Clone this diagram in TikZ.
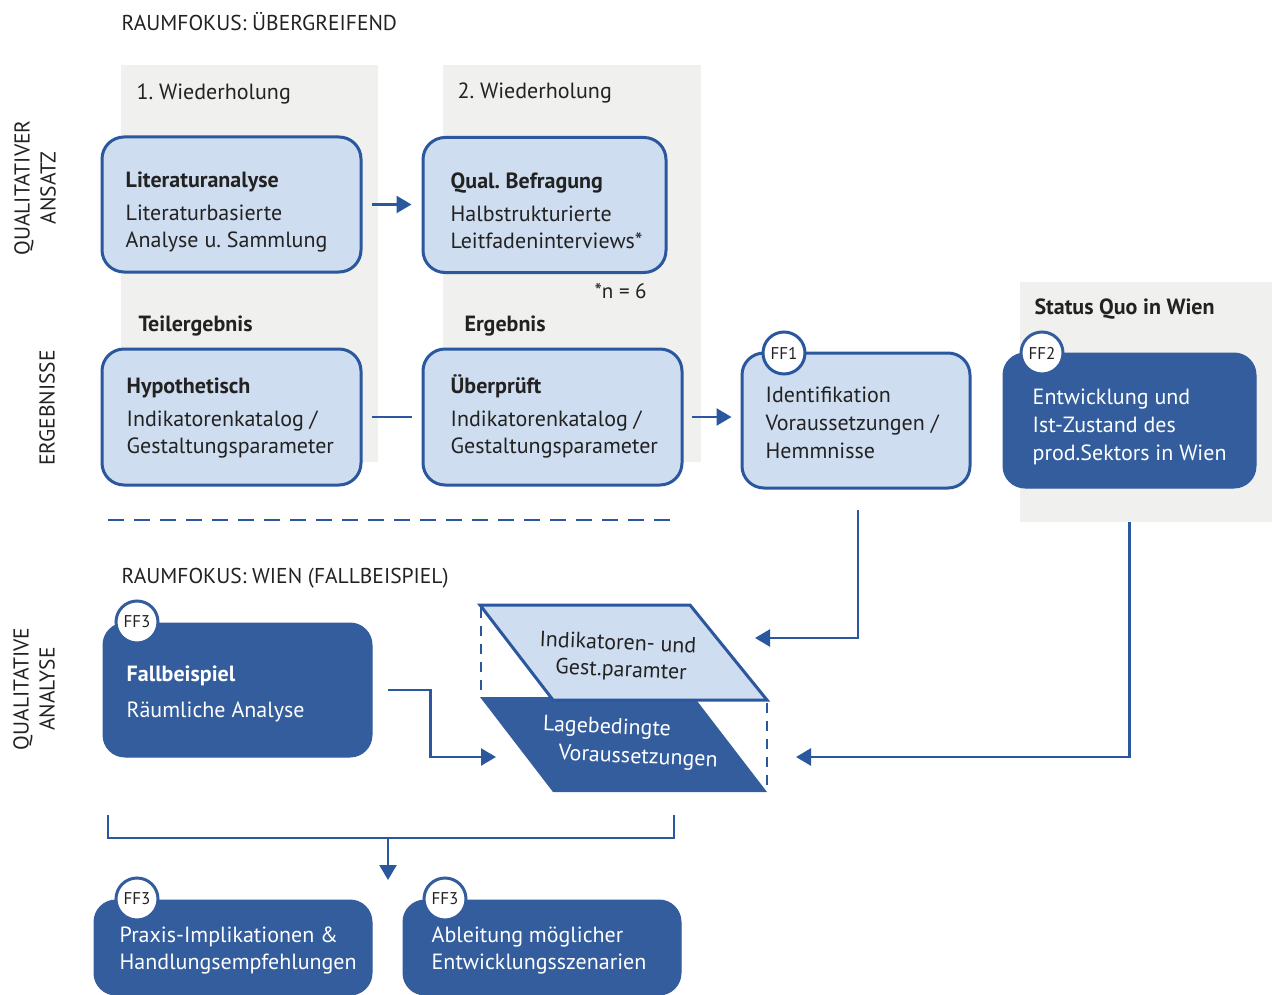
\documentclass[tikz,border=0pt]{standalone}
\usepackage{fontspec}
\setmainfont{PT Sans}
\usetikzlibrary{arrows.meta}
\definecolor{bord}{HTML}{2A579E}
\definecolor{lightfill}{HTML}{CFDDF0}
\definecolor{darkfill}{HTML}{335D9C}
\definecolor{greybg}{HTML}{F0F0EE}
\definecolor{txt}{HTML}{222222}
\tikzset{
  lightbox/.style={draw=bord, line width=3pt, fill=lightfill, rounded corners=22pt},
  darkbox/.style={draw=darkfill, line width=1pt, fill=darkfill, rounded corners=22pt},
  boxtext/.style={anchor=north west, inner sep=0pt, align=left, text=txt,
    font=\fontsize{22}{27}\selectfont},
  darktext/.style={boxtext, text=white},
  badge/.style={circle, draw=bord, line width=3pt, fill=white, minimum size=42pt,
    inner sep=0pt, text=txt, font=\fontsize{17}{17}\selectfont},
  darkbadge/.style={badge, draw=darkfill},
  greypanel/.style={fill=greybg, draw=none, inner sep=0pt},
  conn/.style={draw=bord, line width=2.5pt},
  arr/.style={conn, -{Triangle[length=15pt, width=17pt]}},
  caption/.style={anchor=west, text=txt, font=\fontsize{21.5}{24}\selectfont},
  heading/.style={anchor=west, text=txt, font=\fontsize{22}{24}\selectfont\bfseries},
  sidelabel/.style={rotate=90, align=center, text=txt, font=\fontsize{21.5}{26}\selectfont},
  paratext/.style={inner sep=0pt, rotate=-2.5, font=\fontsize{22}{25}\selectfont},
}
\newcommand{\firstline}{\rule{0pt}{18.9pt}}
\begin{document}
\frenchspacing
\begin{tikzpicture}[x=1pt, y=-1pt]
\useasboundingbox (0,0) rectangle (1272,995);

% grey background panels
\node[greypanel, minimum width=257pt, minimum height=397pt] (bgone) at (249.5,263.5) {};
\node[greypanel, minimum width=258pt, minimum height=397pt] (bgtwo) at (572,263.5) {};
\node[greypanel, minimum width=252pt, minimum height=240pt] (bgsq) at (1146,402) {};

% headings
\node[caption] (rfall) at (118,22) {RAUMFOKUS: ÜBERGREIFEND};
\node[caption, font=\fontsize{22}{24}\selectfont] (wdh1) at (133,94) {1. Wiederholung};
\node[caption, font=\fontsize{22}{24}\selectfont] (wdh2) at (454,93) {2. Wiederholung};
\node[caption, font=\fontsize{21}{24}\selectfont] (nsix) at (591,291) {*n = 6};
\node[heading] (teil) at (135,326) {Teilergebnis};
\node[heading] (erg) at (461,326) {Ergebnis};
\node[heading] (sq) at (1031,309) {Status Quo in Wien};
\node[caption] (rfwien) at (118,578) {RAUMFOKUS: WIEN (FALLBEISPIEL)};

% side labels
\node[sidelabel] (sqa) at (35,188) {QUALITATIVER\\ANSATZ};
\node[sidelabel] (serg) at (47,408) {ERGEBNISSE};
\node[sidelabel] (sqan) at (34,689) {QUALITATIVE\\ANALYSE};

% first row: method steps
\node[lightbox, minimum width=259pt, minimum height=135pt] (lit) at (231.5,204.5) {};
\node[boxtext] (littext) at ([shift={(25,33)}]lit.north west)
  {\firstline\textbf{Literaturanalyse}\\[6pt]Literaturbasierte\\Analyse u. Sammlung};
\node[lightbox, minimum width=243pt, minimum height=135pt] (qual) at (544.5,205) {};
\node[boxtext] (qualtext) at ([shift={(29,33)}]qual.north west)
  {\firstline\textbf{Qual. Befragung}\\[6pt]Halbstrukturierte\\Leitfadeninterviews*};

% second row: results
\node[lightbox, minimum width=259pt, minimum height=136pt] (hyp) at (231.5,417) {};
\node[boxtext] (hyptext) at ([shift={(26,27)}]hyp.north west)
  {\firstline\textbf{Hypothetisch}\\[6pt]Indikatorenkatalog /\\Gestaltungsparameter};
\node[lightbox, minimum width=259pt, minimum height=136pt] (ueb) at (552.5,417) {};
\node[boxtext] (uebtext) at ([shift={(29,27)}]ueb.north west)
  {\firstline\textbf{Überprüft}\\[6pt]Indikatorenkatalog /\\Gestaltungsparameter};
\node[lightbox, minimum width=228pt, minimum height=135pt] (ffone) at (856,420.5) {};
\node[boxtext, font=\fontsize{22}{28}\selectfont] (ffonetext) at ([shift={(25,32)}]ffone.north west)
  {\firstline Identifikation\\Voraussetzungen /\\Hemmnisse};
\node[badge] (bone) at (784,353) {FF1};
\node[darkbox, minimum width=253pt, minimum height=135pt] (fftwo) at (1129.5,420.5) {};
\node[darktext, font=\fontsize{22}{28}\selectfont] (fftwotext) at ([shift={(30,33)}]fftwo.north west)
  {\firstline Entwicklung und\\Ist-Zustand des\\prod.Sektors in Wien};
\node[darkbadge] (btwo) at (1042,353) {FF2};

% separator between the two spatial focuses
\draw[conn, dash pattern=on 16pt off 10pt] (108,520) -- (675,520);

% case study
\node[darkbox, minimum width=269pt, minimum height=134pt] (fall) at (237.5,690) {};
\node[darktext] (falltext) at ([shift={(24,40)}]fall.north west)
  {\firstline\textbf{Fallbeispiel}\\[9pt]Räumliche Analyse};
\node[darkbadge] (bthree) at (137,622) {FF3};

% stacked layers
\fill[darkfill] (480,697) -- (694,697) -- (767,792) -- (553,792) -- cycle;
\draw[draw=bord, line width=3pt, fill=lightfill, line join=miter] (480,605) -- (690,605) -- (767,700) -- (553,700) -- cycle;
\draw[bord, line width=2pt, dash pattern=on 10pt off 8pt] (481,608) -- (481,697);
\draw[bord, line width=2pt, dash pattern=on 10pt off 8pt] (767,703) -- (767,792);
\node[paratext, text=txt] (indone) at (618,642) {Indikatoren- und};
\node[paratext, text=txt] (indtwo) at (621,671) {Gest.paramter};
\node[paratext, text=white] (lageone) at (607,728) {Lagebedingte};
\node[paratext, text=white] (lagetwo) at (638,758) {Voraussetzungen};
\coordinate (indin) at (755,638);
\coordinate (lagein) at (796,757);
\coordinate (lageleft) at (496,757);

% conclusions
\node[darkbox, minimum width=278pt, minimum height=95pt] (praxis) at (233,947.5) {};
\node[darktext] (praxistext) at ([shift={(26,24)}]praxis.north west)
  {\firstline Praxis-Implikationen \&\\Handlungsempfehlungen};
\node[darkbadge] (bfour) at (137,899) {FF3};
\node[darkbox, minimum width=278pt, minimum height=95pt] (ableit) at (542,947.5) {};
\node[darktext] (ableittext) at ([shift={(29,24)}]ableit.north west)
  {\firstline Ableitung möglicher\\Entwicklungsszenarien};
\node[darkbadge] (bfive) at (445,899) {FF3};
\coordinate (mergeleft) at (108,815);
\coordinate (mergeright) at (674,815);
\coordinate (mergetip) at (388,880);

% connectors
\draw[arr] ([xshift=9pt]lit.east) -- ([xshift=-10pt]qual.west |- lit.east);
\draw[conn] ([xshift=9pt]hyp.east) -- ([xshift=-10pt]ueb.west);
\draw[arr] ([xshift=8pt]ueb.east) -- ([xshift=-9pt]ffone.west |- ueb.east);
\draw[arr] ([shift={(2,20)}]ffone.south) |- (indin);
\draw[arr] (bgsq.south -| fftwo.south) |- (lagein);
\draw[arr] ([xshift=15pt]fall.east) -- ++(43,0) |- (lageleft);
\draw[conn] (mergeleft) -- ++(0,23) -| (mergeright);
\draw[arr] (mergetip |- 0,838) -- (mergetip);
\end{tikzpicture}
\end{document}
